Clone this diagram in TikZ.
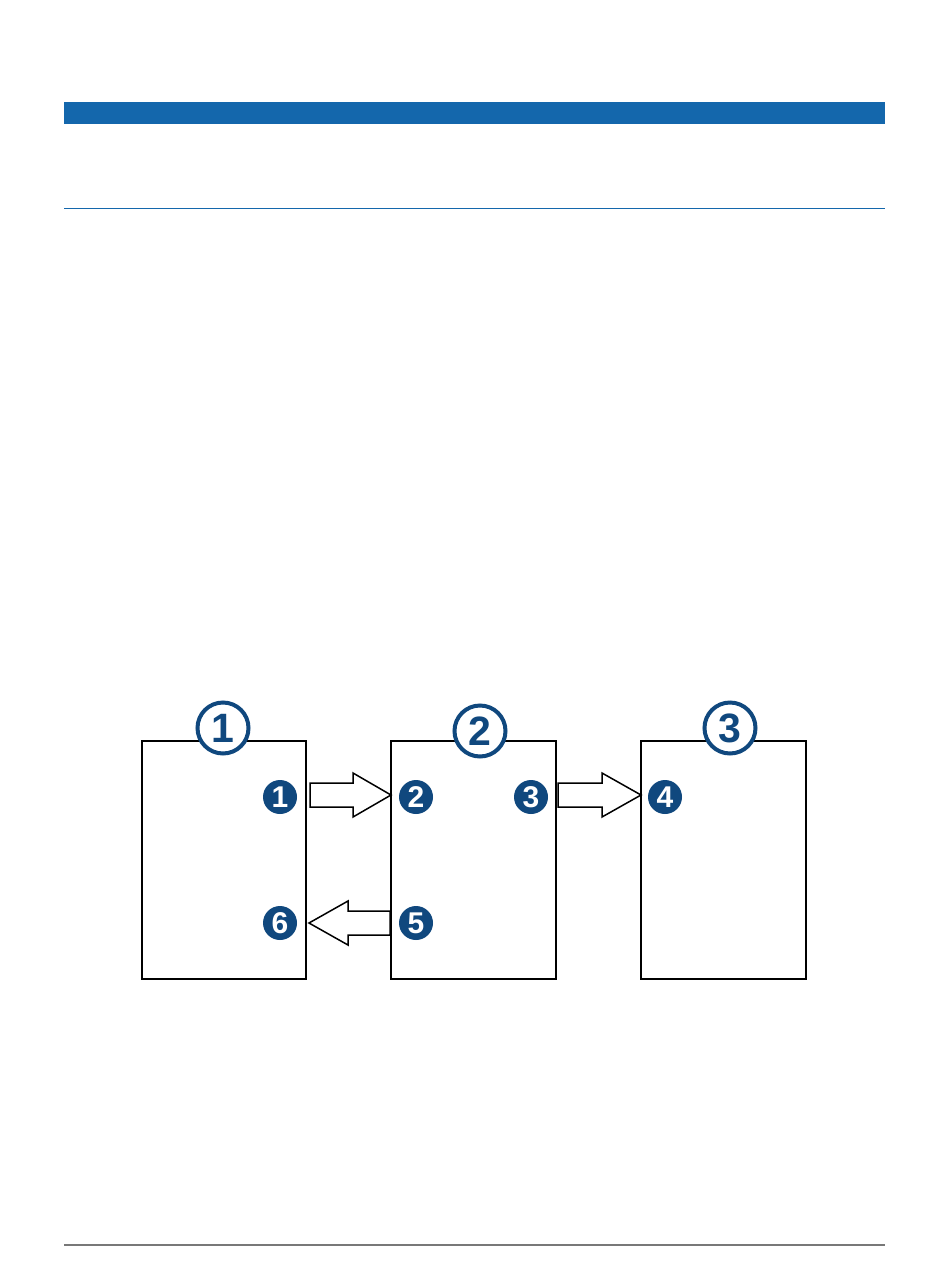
\documentclass[tikz,border=0pt]{standalone}
\usepackage{fontspec}
\setmainfont{Liberation Sans}
\usetikzlibrary{calc}
\definecolor{barblue}{RGB}{20,103,172}
\definecolor{navy}{RGB}{16,72,126}
\definecolor{rulegray}{RGB}{120,120,120}
\tikzset{
  pagebox/.style={draw=black, line width=2pt, fill=white, minimum width=164pt, minimum height=238pt, outer sep=0pt, inner sep=0pt},
  bignum/.style={circle, draw=navy, line width=4pt, fill=white, minimum size=51pt, inner sep=0pt, text=navy, font=\fontsize{41}{41}\selectfont\bfseries},
  smallnum/.style={circle, fill=navy, minimum size=34pt, inner sep=0pt, text=white, font=\fontsize{30}{30}\selectfont\bfseries},
  blockarrow/.style={draw=black, line width=1.5pt, fill=white, line join=miter}
}
\begin{document}
\begin{tikzpicture}[x=1pt,y=-1pt]
\useasboundingbox (0,0) rectangle (950,1269);
% header
\fill[barblue] (64,102) rectangle (885,124);
\draw[barblue, line width=1.4pt] (64,208.5) -- (885,208.5);
\draw[rulegray, line width=1.2pt] (64,1245) -- (885,1245);
% boxes
\node[pagebox] (b1) at (224,860) {};
\node[pagebox, minimum width=165pt] (b2) at (473.5,860) {};
\node[pagebox, minimum width=165pt] (b3) at (723.5,860) {};
% big numbers
\node[bignum] (c1) at (223,728) {1};
\node[bignum] (c2) at (480,731) {2};
\node[bignum] (c3) at (730,728) {3};
% small numbers
\node[smallnum] (n1) at (280,797) {1};
\node[smallnum] (n2) at (416,797) {2};
\node[smallnum] (n3) at (531,797) {3};
\node[smallnum] (n4) at (665,797) {4};
\node[smallnum] (n5) at (416,923) {5};
\node[smallnum] (n6) at (280,923) {6};
% arrow tips on box edges
\coordinate (t1) at ($(b2.west)+(0,-65)$);
\coordinate (t2) at ($(b3.west)+(0,-65)$);
\coordinate (t3) at ($(b1.east)+(3,63)$);
% block arrows
\draw[blockarrow] (t1) -- ++(-38,-22) -- ++(0,10) -- ++(-43,0) -- ++(0,24) -- ++(43,0) -- ++(0,10) -- cycle;
\draw[blockarrow] (t2) -- ++(-39,-22) -- ++(0,10) -- ++(-44,0) -- ++(0,24) -- ++(44,0) -- ++(0,10) -- cycle;
\draw[blockarrow] (t3) -- ++(39,-22) -- ++(0,10) -- ++(42,0) -- ++(0,24) -- ++(-42,0) -- ++(0,10) -- cycle;
\end{tikzpicture}
\end{document}
